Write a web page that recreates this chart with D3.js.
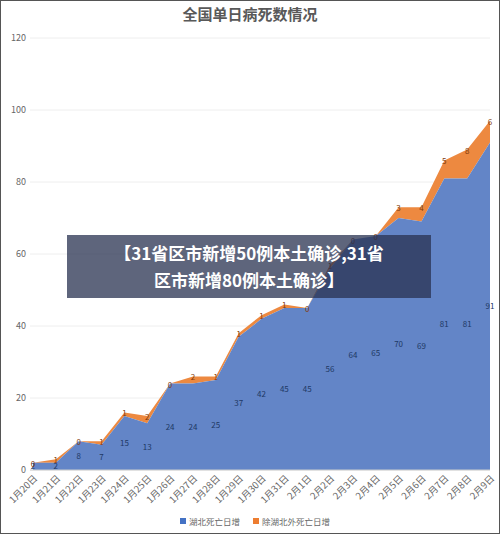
<!DOCTYPE html><html><head><meta charset="utf-8"><script src="https://cdn.jsdelivr.net/npm/d3@7"></script>
<style>body{margin:0;background:#fff}</style></head><body><svg id="c" width="500" height="534"></svg><script>
const dates=["1月20日","1月21日","1月22日","1月23日","1月24日","1月25日","1月26日","1月27日","1月28日","1月29日","1月30日","1月31日","2月1日","2月2日","2月3日","2月4日","2月5日","2月6日","2月7日","2月8日","2月9日"];
const hubei=[2,2,8,7,15,13,24,24,25,37,42,45,45,56,64,65,70,69,81,81,91];
const others=[0,1,0,1,1,2,0,2,1,1,1,1,0,1,0,0,3,4,5,8,6];
const yTicks=[0,20,40,60,80,100,120];
const svg=d3.select("#c");
const F="'Noto Sans CJK SC','Noto Sans',sans-serif";
svg.append("rect").attr("x",0.5).attr("y",0.5).attr("width",499).attr("height",533).attr("fill","#fff").attr("stroke","#555");
const x=d3.scalePoint().domain(dates).range([33,490]);
const y=d3.scaleLinear().domain([0,120]).range([470,38]);
svg.append("g").selectAll("line").data(yTicks).join("line").attr("x1",30).attr("x2",490).attr("y1",d=>y(d)).attr("y2",d=>y(d)).attr("stroke","#eee");
svg.append("g").selectAll("text").data(yTicks).join("text").attr("x",26).attr("y",d=>y(d)+3).attr("text-anchor","end").attr("font-size",9).attr("fill","#666").attr("font-family",F).text(d=>d);
const data=dates.map((d,i)=>({d,h:hubei[i],o:others[i]}));
svg.append("path").datum(data).attr("fill","#ed8940").attr("d",d3.area().x(d=>x(d.d)).y0(d=>y(d.h)).y1(d=>y(d.h+d.o)));
svg.append("path").datum(data).attr("fill","#6385c7").attr("d",d3.area().x(d=>x(d.d)).y0(y(0)).y1(d=>y(d.h)));
svg.append("line").attr("x1",30).attr("x2",490).attr("y1",y(0)).attr("y2",y(0)).attr("stroke","#ccc");
svg.append("g").selectAll("text").data(data).join("text").attr("x",d=>x(d.d)).attr("y",d=>y(d.h/2)+3).attr("text-anchor","middle").attr("font-size",8).attr("fill","#203864").attr("font-family",F).text(d=>d.h);
svg.append("g").selectAll("text").data(data).join("text").attr("x",d=>x(d.d)).attr("y",d=>y(d.h+d.o)+4).attr("text-anchor","middle").attr("font-size",8).attr("fill","#843c0c").attr("font-family",F).text(d=>d.o);
svg.append("g").selectAll("text").data(dates).join("text").attr("transform",d=>`translate(${x(d)+5},${479}) rotate(-45)`).attr("text-anchor","end").attr("font-size",9.5).attr("fill","#666").attr("font-family",F).text(d=>d);
svg.append("text").attr("x",250).attr("y",20).attr("text-anchor","middle").attr("font-size",15).attr("font-weight","bold").attr("fill","#595959").attr("font-family",F).text("全国单日病死数情况");
const lg=[["湖北死亡日增","#4472c4",180],["除湖北外死亡日增","#ed7d31",253]];
lg.forEach(([t,c,lx])=>{svg.append("rect").attr("x",lx).attr("y",518).attr("width",6).attr("height",6).attr("fill",c);
svg.append("text").attr("x",lx+9).attr("y",525).attr("font-size",8.5).attr("fill","#666").attr("font-family",F).text(t);});
svg.append("rect").attr("x",67).attr("y",235).attr("width",364).attr("height",63).attr("fill","rgba(40,50,80,0.75)");
svg.append("text").attr("x",249).attr("y",260).attr("text-anchor","middle").attr("font-size",17).attr("font-weight","bold").attr("fill","#fff").attr("font-family",F).text("【31省区市新增50例本土确诊,31省");
svg.append("text").attr("x",249).attr("y",287).attr("text-anchor","middle").attr("font-size",17).attr("font-weight","bold").attr("fill","#fff").attr("font-family",F).text("区市新增80例本土确诊】");
</script></body></html>
